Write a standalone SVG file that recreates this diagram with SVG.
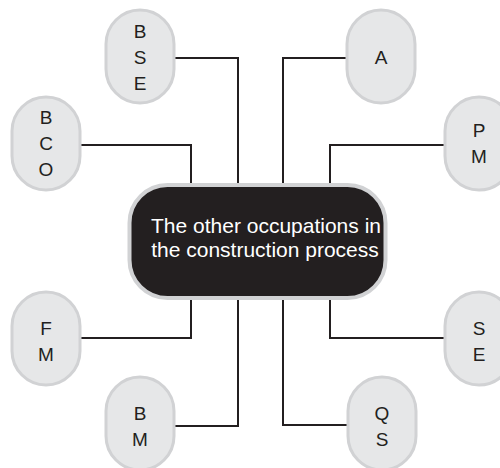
<svg xmlns="http://www.w3.org/2000/svg" width="500" height="468" viewBox="0 0 500 468">
<style>
.pill{fill:#e6e7e8;stroke:#d1d2d4;stroke-width:3}
.lbl{font-family:"Liberation Sans",Arial,sans-serif;font-size:19px;fill:#231f20;text-anchor:middle}
.ctr{font-family:"Liberation Sans",Arial,sans-serif;font-size:21px;fill:#ffffff;text-anchor:middle}
.con{fill:none;stroke:#231f20;stroke-width:2}
</style>
<rect width="500" height="468" fill="#ffffff"/>
<g id="connectors">
<polyline class="con" points="174,58 238,58 238,185"/>
<polyline class="con" points="347,58 283,58 283,185"/>
<polyline class="con" points="80,145 191,145 191,185"/>
<polyline class="con" points="445,145 330,145 330,185"/>
<polyline class="con" points="80,338 191,338 191,298"/>
<polyline class="con" points="445,338 330,338 330,298"/>
<polyline class="con" points="174,426 238,426 238,298"/>
<polyline class="con" points="348,425 283,425 283,298"/>
</g>
<g id="center">
<rect x="129.5" y="185" width="256" height="113" rx="38" fill="#231f20" stroke="#d1d2d4" stroke-width="4"/>
<text class="ctr" x="266" y="233">The other occupations in</text>
<text class="ctr" x="265" y="257">the construction process</text>
</g>
<g id="BSE">
<rect class="pill" x="106" y="10" width="68" height="93" rx="34"/>
<text class="lbl" x="140" y="38">B</text>
<text class="lbl" x="140" y="64">S</text>
<text class="lbl" x="140" y="90">E</text>
</g>
<g id="A">
<rect class="pill" x="347" y="10" width="68" height="93" rx="34"/>
<text class="lbl" x="381" y="64">A</text>
</g>
<g id="BCO">
<rect class="pill" x="12" y="97" width="68" height="93" rx="34"/>
<text class="lbl" x="46" y="124">B</text>
<text class="lbl" x="46" y="150">C</text>
<text class="lbl" x="46" y="176">O</text>
</g>
<g id="PM">
<rect class="pill" x="445" y="97" width="68" height="93" rx="34"/>
<text class="lbl" x="479" y="137">P</text>
<text class="lbl" x="479" y="163">M</text>
</g>
<g id="FM">
<rect class="pill" x="12" y="292" width="68" height="93" rx="34"/>
<text class="lbl" x="46" y="335">F</text>
<text class="lbl" x="46" y="361">M</text>
</g>
<g id="SE">
<rect class="pill" x="445" y="292" width="68" height="93" rx="34"/>
<text class="lbl" x="479" y="335">S</text>
<text class="lbl" x="479" y="361">E</text>
</g>
<g id="BM">
<rect class="pill" x="106" y="377" width="68" height="93" rx="34"/>
<text class="lbl" x="140" y="420">B</text>
<text class="lbl" x="140" y="446">M</text>
</g>
<g id="QS">
<rect class="pill" x="348" y="377" width="68" height="93" rx="34"/>
<text class="lbl" x="382" y="420">Q</text>
<text class="lbl" x="382" y="446">S</text>
</g>
</svg>
